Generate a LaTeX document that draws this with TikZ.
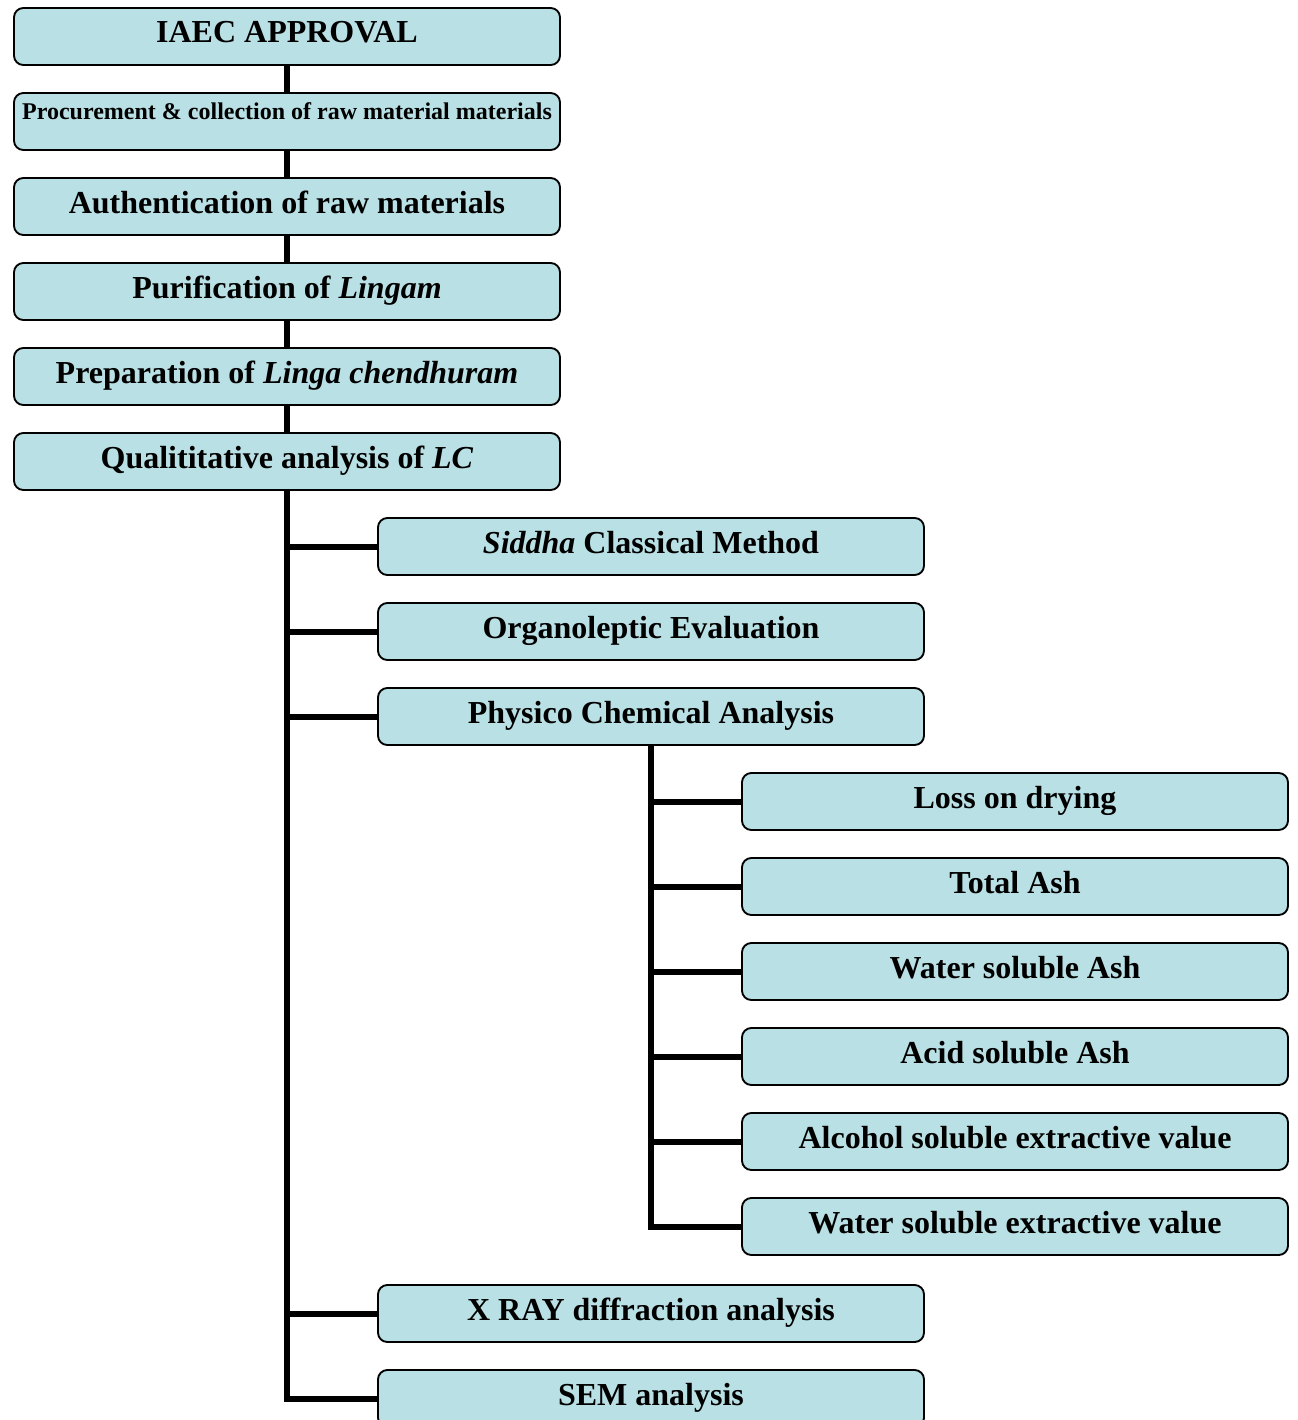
\documentclass[tikz,border=0pt]{standalone}
\usepackage{fontspec}
\setmainfont{Liberation Serif}
\usepackage{tikz}

\definecolor{boxblue}{RGB}{185,224,228}

\begin{document}
\begin{tikzpicture}
[
    x=0.75pt, y=-0.75pt,
    stepbox/.style={draw=black, line width=1.4pt, fill=boxblue, rounded corners=7pt,
        minimum width=409.5pt, inner xsep=0pt, inner ysep=0pt,
        text height=26.25pt, text depth=16.5pt,
        font=\fontsize{24}{28}\selectfont\bfseries},
    smallbox/.style={stepbox, text height=19.5pt, text depth=23.25pt,
        font=\fontsize{18}{21}\selectfont\bfseries},
    link/.style={line width=4.5pt, black},
]
\useasboundingbox (0,0) rectangle (1298,1420);
% main column
\node [stepbox] (iaec) at (287,36.5) {IAEC APPROVAL};
\node [smallbox] (proc) at (287,121.5) {Procurement \& collection of raw material materials};
\node [stepbox] (auth) at (287,206.5) {Authentication of raw materials};
\node [stepbox] (puri) at (287,291.5) {Purification of \textit{Lingam}};
\node [stepbox] (prep) at (287,376.5) {Preparation of \textit{Linga chendhuram}};
\node [stepbox] (qual) at (287,461.5) {Qualititative analysis of \textit{LC}};
% analyses
\node [stepbox] (siddha) at (651,546.5) {\textit{Siddha} Classical Method};
\node [stepbox] (organo) at (651,631.5) {Organoleptic Evaluation};
\node [stepbox] (physico) at (651,716.5) {Physico Chemical Analysis};
\node [stepbox] (xray) at (651,1313.5) {X RAY diffraction analysis};
\node [stepbox] (sem) at (651,1398.5) {SEM analysis};
% physico chemical tests
\node [stepbox] (loss) at (1015,801.5) {Loss on drying};
\node [stepbox] (tash) at (1015,886.5) {Total Ash};
\node [stepbox] (wash) at (1015,971.5) {Water soluble Ash};
\node [stepbox] (aash) at (1015,1056.5) {Acid soluble Ash};
\node [stepbox] (alco) at (1015,1141.5) {Alcohol soluble extractive value};
\node [stepbox] (wext) at (1015,1226.5) {Water soluble extractive value};

\draw [link] (iaec) -- (proc);
\draw [link] (proc) -- (auth);
\draw [link] (auth) -- (puri);
\draw [link] (puri) -- (prep);
\draw [link] (prep) -- (qual);
\foreach \n in {siddha,organo,physico,xray,sem}
    \draw [link] (qual.south) |- (\n.west);
\foreach \n in {loss,tash,wash,aash,alco,wext}
    \draw [link] (physico.south) |- (\n.west);
\end{tikzpicture}
\end{document}
